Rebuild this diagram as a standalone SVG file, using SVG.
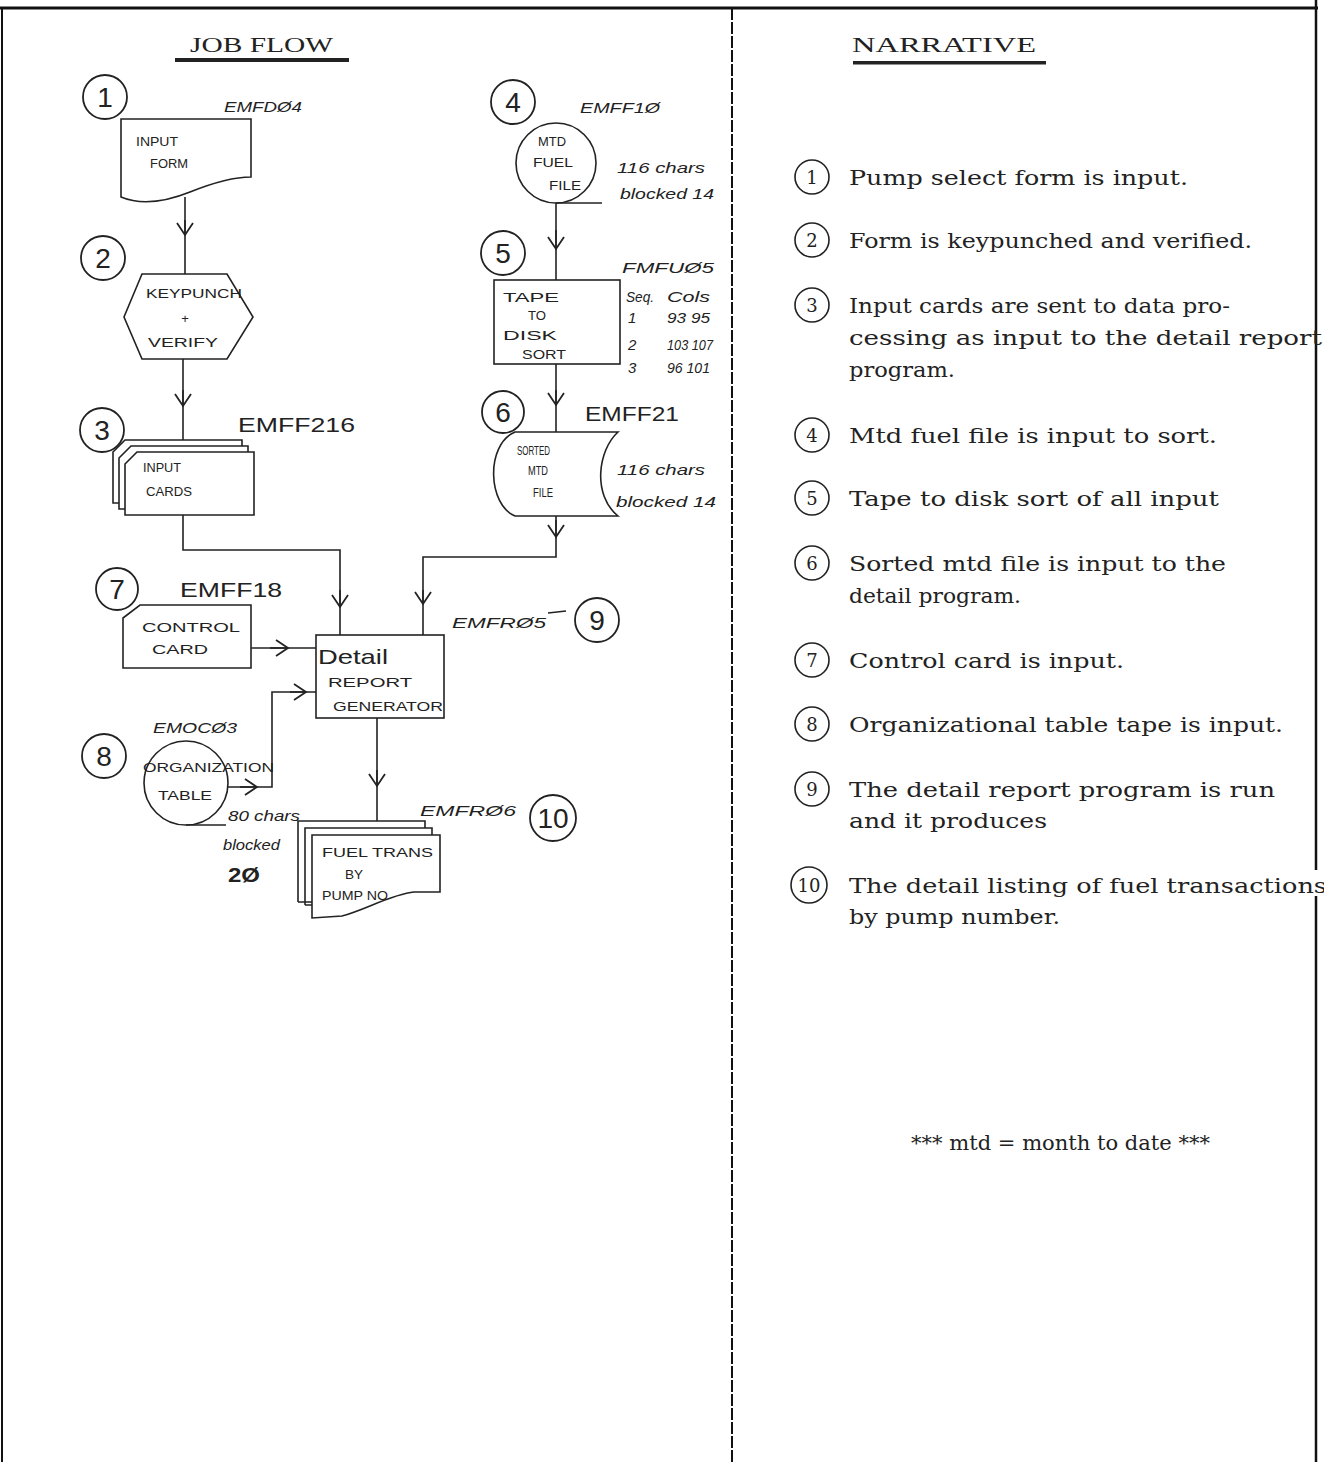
<svg xmlns="http://www.w3.org/2000/svg" width="1324" height="1462" viewBox="0 0 1324 1462">
<style>
.bg{fill:#fff}
.frame{stroke:#111;fill:none}
.sh{fill:#fff;stroke:#222;stroke-width:1.6}
.ln{fill:none;stroke:#222;stroke-width:1.6}
.num{fill:none;stroke:#222;stroke-width:1.8}
.hn{font-family:"Liberation Sans",Arial,sans-serif;font-size:28px;fill:#222;text-anchor:middle}
.hw{font-family:"Liberation Sans",Arial,sans-serif;font-size:13px;fill:#222}
.lb{font-family:"Liberation Sans",Arial,sans-serif;font-size:15px;font-style:italic;fill:#222}
.lbb{font-family:"Liberation Sans",Arial,sans-serif;font-size:21px;fill:#222}
.title{font-family:"Liberation Serif","Times New Roman",serif;font-size:22px;fill:#222}
.nc{fill:none;stroke:#222;stroke-width:1.6}
.nn{font-family:"DejaVu Serif","Liberation Serif",serif;font-size:18px;fill:#222;text-anchor:middle}
.nt{font-family:"DejaVu Serif","Liberation Serif",serif;font-size:21px;fill:#222}
.c{fill:none;stroke:#222;stroke-width:1.6}
</style>
<defs>
<marker id="v" markerUnits="userSpaceOnUse" markerWidth="16" markerHeight="18" refX="12" refY="8" orient="auto" overflow="visible">
<path d="M0,0 L12,8 L0,16" fill="none" stroke="#222" stroke-width="1.8"/>
</marker>
</defs>
<rect class="bg" x="0" y="0" width="1324" height="1462"/>

<g id="frame">
<line class="frame" x1="0" y1="8" x2="1318" y2="8" stroke-width="3"/>
<line class="frame" x1="2" y1="8" x2="2" y2="1462" stroke-width="2"/>
<line class="frame" x1="732" y1="8" x2="732" y2="1462" stroke-width="2" stroke-dasharray="12 2"/>
<line class="frame" x1="1316" y1="0" x2="1316" y2="870" stroke-width="2.5"/>
<line class="frame" x1="1316" y1="896" x2="1316" y2="1462" stroke-width="2.5"/>
</g>

<g id="titles">
<text class="title" x="190" y="52" textLength="143" lengthAdjust="spacingAndGlyphs">JOB FLOW</text>
<rect x="175" y="58" width="174" height="4" fill="#222"/>
<text class="title" x="852" y="52" textLength="184" lengthAdjust="spacingAndGlyphs">NARRATIVE</text>
<rect x="853" y="61" width="193" height="3.5" fill="#222"/>
</g>

<g id="connectors">
<path class="c" d="M185,197 V274"/>
<path class="c" d="M185,220 V235" marker-end="url(#v)"/>
<path class="c" d="M183,359 V440"/>
<path class="c" d="M183,390 V406" marker-end="url(#v)"/>
<path class="c" d="M183,515 V550 H340 V635"/>
<path class="c" d="M340,590 V607" marker-end="url(#v)"/>
<path class="c" d="M556,203 V280"/>
<path class="c" d="M556,230 V249" marker-end="url(#v)"/>
<path class="c" d="M556,364 V432"/>
<path class="c" d="M556,390 V405" marker-end="url(#v)"/>
<path class="c" d="M556,516 V557 H423 V635"/>
<path class="c" d="M556,520 V537" marker-end="url(#v)"/>
<path class="c" d="M423,590 V604" marker-end="url(#v)"/>
<path class="c" d="M251,648 H316"/>
<path class="c" d="M270,648 H288" marker-end="url(#v)"/>
<path class="c" d="M228,787 H272 V692 H316"/>
<path class="c" d="M240,787 H257" marker-end="url(#v)"/>
<path class="c" d="M290,692 H306" marker-end="url(#v)"/>
<path class="c" d="M377,718 V821"/>
<path class="c" d="M377,770 V786" marker-end="url(#v)"/>
</g>

<g id="n1">
<circle class="num" cx="105" cy="97" r="22"/>
<text class="hn" x="105" y="107">1</text>
<text class="lb" x="224" y="112" textLength="78" lengthAdjust="spacingAndGlyphs">EMFDØ4</text>
<path class="sh" d="M121,119 H251 V177 C232,177 210,184 190,192 C165,202 140,205 121,197 Z"/>
<text class="hw" x="136" y="146" textLength="42" lengthAdjust="spacingAndGlyphs">INPUT</text>
<text class="hw" x="150" y="168" textLength="38" lengthAdjust="spacingAndGlyphs">FORM</text>
</g>

<g id="n2">
<circle class="num" cx="103" cy="258" r="22"/>
<text class="hn" x="103" y="268">2</text>
<polygon class="sh" points="142,274 227,274 253,317 227,359 142,359 124,317"/>
<text class="hw" x="146" y="298" textLength="96" lengthAdjust="spacingAndGlyphs">KEYPUNCH</text>
<text class="hw" x="185" y="323" text-anchor="middle">+</text>
<text class="hw" x="148" y="347" textLength="70" lengthAdjust="spacingAndGlyphs">VERIFY</text>
</g>

<g id="n3">
<circle class="num" cx="102" cy="430" r="22"/>
<text class="hn" x="102" y="440">3</text>
<text class="lbb" x="238" y="432" textLength="117" lengthAdjust="spacingAndGlyphs">EMFF216</text>
<path class="sh" d="M113,452 L125,440 H242 V503 H113 Z"/>
<path class="sh" d="M119,458 L131,446 H248 V509 H119 Z"/>
<path class="sh" d="M125,464 L137,452 H254 V515 H125 Z"/>
<text class="hw" x="143" y="472" textLength="38" lengthAdjust="spacingAndGlyphs">INPUT</text>
<text class="hw" x="146" y="496" textLength="46" lengthAdjust="spacingAndGlyphs">CARDS</text>
</g>

<g id="n4">
<circle class="num" cx="513" cy="102" r="22"/>
<text class="hn" x="513" y="112">4</text>
<text class="lb" x="580" y="113" textLength="80" lengthAdjust="spacingAndGlyphs">EMFF1Ø</text>
<circle class="sh" cx="556" cy="163" r="40"/>
<line class="c" x1="556" y1="203" x2="602" y2="203"/>
<text class="hw" x="538" y="146" textLength="28" lengthAdjust="spacingAndGlyphs">MTD</text>
<text class="hw" x="533" y="167" textLength="40" lengthAdjust="spacingAndGlyphs">FUEL</text>
<text class="hw" x="549" y="190" textLength="32" lengthAdjust="spacingAndGlyphs">FILE</text>
<text class="lb" x="617" y="173" textLength="88" lengthAdjust="spacingAndGlyphs">116 chars</text>
<text class="lb" x="620" y="199" textLength="94" lengthAdjust="spacingAndGlyphs">blocked 14</text>
</g>

<g id="n5">
<circle class="num" cx="503" cy="253" r="22"/>
<text class="hn" x="503" y="263">5</text>
<text class="lb" x="622" y="273" textLength="92" lengthAdjust="spacingAndGlyphs">FMFUØ5</text>
<rect class="sh" x="494" y="280" width="126" height="84"/>
<text class="hw" x="503" y="302" textLength="56" lengthAdjust="spacingAndGlyphs">TAPE</text>
<text class="hw" x="528" y="320" textLength="18" lengthAdjust="spacingAndGlyphs">TO</text>
<text class="hw" x="503" y="340" textLength="54" lengthAdjust="spacingAndGlyphs">DISK</text>
<text class="hw" x="522" y="359" textLength="44" lengthAdjust="spacingAndGlyphs">SORT</text>
<text class="lb" x="626" y="302" font-size="14" textLength="28" lengthAdjust="spacingAndGlyphs">Seq.</text>
<text class="lb" x="667" y="302" font-size="14" textLength="43" lengthAdjust="spacingAndGlyphs">Cols</text>
<text class="lb" x="628" y="323" font-size="13">1</text>
<text class="lb" x="667" y="323" font-size="12" textLength="43" lengthAdjust="spacingAndGlyphs">93 95</text>
<text class="lb" x="628" y="350" font-size="13">2</text>
<text class="lb" x="667" y="350" font-size="12" textLength="46" lengthAdjust="spacingAndGlyphs">103 107</text>
<text class="lb" x="628" y="373" font-size="13">3</text>
<text class="lb" x="667" y="373" font-size="12" textLength="43" lengthAdjust="spacingAndGlyphs">96 101</text>
</g>

<g id="n6">
<circle class="num" cx="503" cy="412" r="21"/>
<text class="hn" x="503" y="422">6</text>
<text class="lbb" x="585" y="421" textLength="94" lengthAdjust="spacingAndGlyphs">EMFF21</text>
<path class="sh" d="M515,432 H618 C598,450 592,495 618,516 H515 C488,505 485,445 515,432 Z"/>
<text class="hw" x="517" y="455" font-size="12" textLength="33" lengthAdjust="spacingAndGlyphs">SORTED</text>
<text class="hw" x="528" y="475" font-size="12" textLength="20" lengthAdjust="spacingAndGlyphs">MTD</text>
<text class="hw" x="533" y="497" font-size="12" textLength="20" lengthAdjust="spacingAndGlyphs">FILE</text>
<text class="lb" x="617" y="475" textLength="88" lengthAdjust="spacingAndGlyphs">116 chars</text>
<text class="lb" x="616" y="507" textLength="100" lengthAdjust="spacingAndGlyphs">blocked 14</text>
</g>

<g id="n7">
<circle class="num" cx="117" cy="589" r="21"/>
<text class="hn" x="117" y="599">7</text>
<text class="lbb" x="180" y="597" font-size="22" textLength="102" lengthAdjust="spacingAndGlyphs">EMFF18</text>
<path class="sh" d="M123,618 L140,605 H251 V668 H123 Z"/>
<text class="hw" x="142" y="632" textLength="98" lengthAdjust="spacingAndGlyphs">CONTROL</text>
<text class="hw" x="152" y="654" textLength="56" lengthAdjust="spacingAndGlyphs">CARD</text>
</g>

<g id="n8">
<circle class="num" cx="104" cy="756" r="22"/>
<text class="hn" x="104" y="766">8</text>
<text class="lb" x="153" y="733" textLength="84" lengthAdjust="spacingAndGlyphs">EMOCØ3</text>
<circle class="sh" cx="186" cy="783" r="42"/>
<line class="c" x1="186" y1="825" x2="226" y2="825"/>
<text class="hw" x="143" y="772" font-size="12" textLength="131" lengthAdjust="spacingAndGlyphs">ORGANIZATION</text>
<text class="hw" x="158" y="800" font-size="12" textLength="54" lengthAdjust="spacingAndGlyphs">TABLE</text>
<text class="lb" x="228" y="821" textLength="72" lengthAdjust="spacingAndGlyphs">80 chars</text>
<text class="lb" x="223" y="850" textLength="57" lengthAdjust="spacingAndGlyphs">blocked</text>
<text class="lbb" x="228" y="882" font-size="22" font-weight="bold" textLength="32" lengthAdjust="spacingAndGlyphs">2Ø</text>
</g>

<g id="n9">
<rect class="sh" x="316" y="635" width="128" height="83"/>
<text class="lbb" x="318" y="664" font-size="17" textLength="70" lengthAdjust="spacingAndGlyphs">Detail</text>
<text class="hw" x="328" y="687" textLength="84" lengthAdjust="spacingAndGlyphs">REPORT</text>
<text class="hw" x="333" y="711" textLength="110" lengthAdjust="spacingAndGlyphs">GENERATOR</text>
<text class="lb" x="452" y="628" textLength="94" lengthAdjust="spacingAndGlyphs">EMFRØ5</text>
<line class="c" x1="548" y1="613" x2="566" y2="611"/>
<circle class="num" cx="597" cy="620" r="22"/>
<text class="hn" x="597" y="630">9</text>
</g>

<g id="n10">
<path class="ln" d="M298,902 V821 H425 V828 M298,902 H312"/>
<path class="ln" d="M305,905 V828 H432 V835 M305,905 H312"/>
<path class="sh" d="M312,835 H440 V892 H414 C392,894 365,910 342,916 L312,918 Z"/>
<text class="hw" x="322" y="857" textLength="111" lengthAdjust="spacingAndGlyphs">FUEL TRANS</text>
<text class="hw" x="345" y="879" textLength="18" lengthAdjust="spacingAndGlyphs">BY</text>
<text class="hw" x="322" y="900" textLength="66" lengthAdjust="spacingAndGlyphs">PUMP NO</text>
<text class="lb" x="420" y="816" textLength="96" lengthAdjust="spacingAndGlyphs">EMFRØ6</text>
<circle class="num" cx="553" cy="818" r="23"/>
<text class="hn" x="553" y="828" font-size="24">10</text>
</g>

<g id="narrative">
<g id="s1"><circle class="nc" cx="812" cy="177" r="17"/><text class="nn" x="812" y="184">1</text>
<text class="nt" x="849" y="185" textLength="339" lengthAdjust="spacingAndGlyphs">Pump select form is input.</text></g>
<g id="s2"><circle class="nc" cx="812" cy="240" r="17"/><text class="nn" x="812" y="247">2</text>
<text class="nt" x="849" y="248" textLength="403" lengthAdjust="spacingAndGlyphs">Form is keypunched and verified.</text></g>
<g id="s3"><circle class="nc" cx="812" cy="305" r="17"/><text class="nn" x="812" y="312">3</text>
<text class="nt" x="849" y="313" textLength="381" lengthAdjust="spacingAndGlyphs">Input cards are sent to data pro-</text>
<text class="nt" x="849" y="345" textLength="473" lengthAdjust="spacingAndGlyphs">cessing as input to the detail report</text>
<text class="nt" x="849" y="377" textLength="106" lengthAdjust="spacingAndGlyphs">program.</text></g>
<g id="s4"><circle class="nc" cx="812" cy="435" r="17"/><text class="nn" x="812" y="442">4</text>
<text class="nt" x="849" y="443" textLength="368" lengthAdjust="spacingAndGlyphs">Mtd fuel file is input to sort.</text></g>
<g id="s5"><circle class="nc" cx="812" cy="498" r="17"/><text class="nn" x="812" y="505">5</text>
<text class="nt" x="849" y="506" textLength="370" lengthAdjust="spacingAndGlyphs">Tape to disk sort of all input</text></g>
<g id="s6"><circle class="nc" cx="812" cy="563" r="17"/><text class="nn" x="812" y="570">6</text>
<text class="nt" x="849" y="571" textLength="377" lengthAdjust="spacingAndGlyphs">Sorted mtd file is input to the</text>
<text class="nt" x="849" y="603" textLength="172" lengthAdjust="spacingAndGlyphs">detail program.</text></g>
<g id="s7"><circle class="nc" cx="812" cy="660" r="17"/><text class="nn" x="812" y="667">7</text>
<text class="nt" x="849" y="668" textLength="275" lengthAdjust="spacingAndGlyphs">Control card is input.</text></g>
<g id="s8"><circle class="nc" cx="812" cy="724" r="17"/><text class="nn" x="812" y="731">8</text>
<text class="nt" x="849" y="732" textLength="434" lengthAdjust="spacingAndGlyphs">Organizational table tape is input.</text></g>
<g id="s9"><circle class="nc" cx="812" cy="789" r="17"/><text class="nn" x="812" y="796">9</text>
<text class="nt" x="849" y="797" textLength="426" lengthAdjust="spacingAndGlyphs">The detail report program is run</text>
<text class="nt" x="849" y="828" textLength="198" lengthAdjust="spacingAndGlyphs">and it produces</text></g>
<g id="s10"><circle class="nc" cx="809" cy="885" r="18"/><text class="nn" x="809" y="892" font-size="17">10</text>
<text class="nt" x="849" y="893" textLength="478" lengthAdjust="spacingAndGlyphs">The detail listing of fuel transactions</text>
<text class="nt" x="849" y="924" textLength="211" lengthAdjust="spacingAndGlyphs">by pump number.</text></g>
<text class="nt" x="911" y="1150" font-size="18" textLength="299" lengthAdjust="spacingAndGlyphs">*** mtd = month to date ***</text>
</g>
</svg>
